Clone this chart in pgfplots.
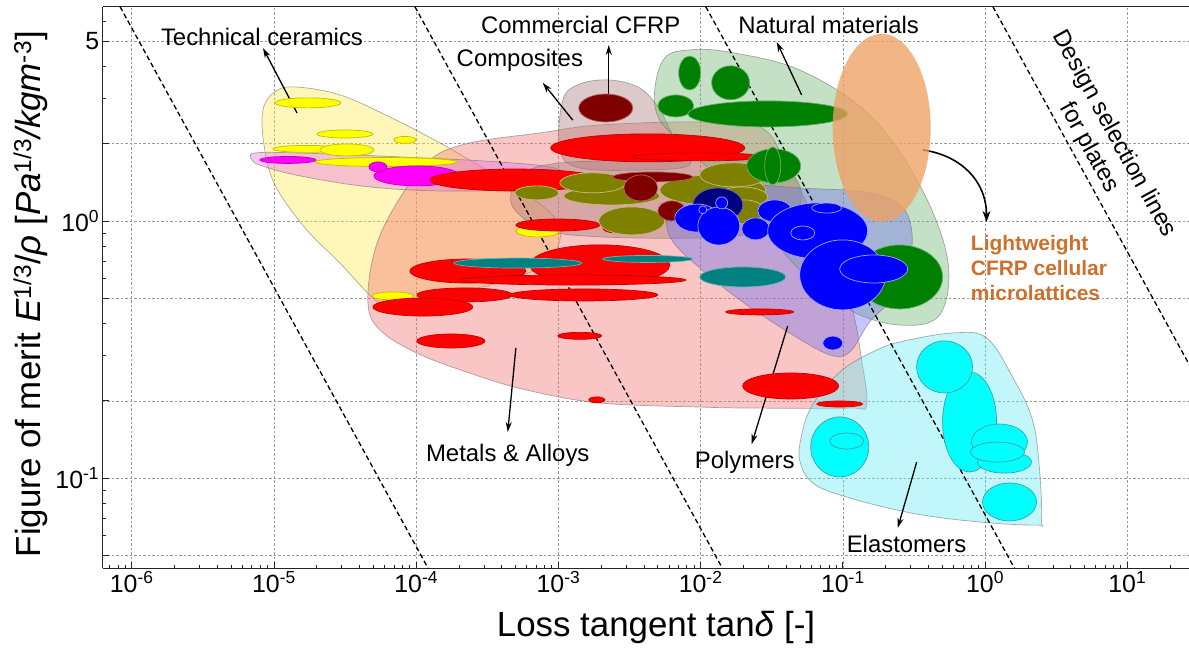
\documentclass[border=0pt]{standalone}
\usepackage{fontspec}
\setmainfont{Liberation Sans}
\usepackage{pgfplots}
\pgfplotsset{compat=1.18}
\usetikzlibrary{arrows.meta}

\definecolor{ceramic}{RGB}{255,235,80}
\definecolor{metal}{RGB}{240,110,110}
\definecolor{band}{RGB}{235,110,235}
\definecolor{compo}{RGB}{170,120,120}
\definecolor{natur}{RGB}{110,180,110}
\definecolor{polym}{RGB}{110,110,240}
\definecolor{elast}{RGB}{100,235,245}
\definecolor{lwcfrp}{RGB}{238,160,100}
\definecolor{lwtext}{RGB}{204,112,44}
\definecolor{yellowc}{RGB}{255,255,0}
\definecolor{magentac}{RGB}{255,0,255}
\definecolor{redc}{RGB}{255,0,0}
\definecolor{bluec}{RGB}{0,0,255}
\definecolor{cyanc}{RGB}{0,255,255}
\definecolor{olivec}{RGB}{128,128,0}
\definecolor{maroonc}{RGB}{128,0,0}
\definecolor{greenc}{RGB}{0,128,0}
\definecolor{navyc}{RGB}{0,0,128}
\definecolor{tealc}{RGB}{0,128,128}

\pgfdeclareplotmark{ell}{%
  \pgfpathellipse{\pgfpointorigin}{\pgfqpoint{\rx bp}{0pt}}{\pgfqpoint{0pt}{\ry bp}}%
  \pgfusepathqfillstroke}

\pgfplotsset{
  ell/.style 2 args={scatter, only marks, mark=ell,
    visualization depends on={value \thisrow{rx}\as\rx},
    visualization depends on={value \thisrow{ry}\as\ry},
    scatter/use mapped color={draw=#2, fill=#1},
    mark options={line width=0.7bp}},
  env/.style={fill=#1, fill opacity=0.4, draw=black!55, draw opacity=0.6,
    line width=0.7bp, smooth cycle, tension=0.6},
  selline/.style={black, line width=1.3bp, dash pattern=on 5bp off 3bp},
}
\tikzset{
  ann/.style={font=\fontsize{24}{28}\selectfont},
  arr/.style={-{Stealth[length=10bp,width=6bp]}, line width=1.3bp},
}

\begin{document}
\begin{tikzpicture}
\begin{axis}[
  at={(0,0)}, anchor=south west,
  scale only axis, width=1086.3bp, height=561.6bp,
  xmin=-6.204, xmax=1.434, ymin=-1.350, ymax=0.834,
  axis lines*=left,
  axis line style={line width=1.4bp, black!85},
  xtick={-6,-5,-4,-3,-2,-1,0,1},
  xticklabels={10\textsuperscript{-6},10\textsuperscript{-5},10\textsuperscript{-4},10\textsuperscript{-3},10\textsuperscript{-2},10\textsuperscript{-1},10\textsuperscript{0},10\textsuperscript{1}},
  ytick={-1.30103,-1,-0.69897,-0.30103,0,0.30103,0.69897},
  yticklabels={,10\textsuperscript{-1},,,10\textsuperscript{0},,5},
  minor xtick={-6.155,-6.097,-6.046,
    -5.699,-5.523,-5.398,-5.301,-5.222,-5.155,-5.097,-5.046,
    -4.699,-4.523,-4.398,-4.301,-4.222,-4.155,-4.097,-4.046,
    -3.699,-3.523,-3.398,-3.301,-3.222,-3.155,-3.097,-3.046,
    -2.699,-2.523,-2.398,-2.301,-2.222,-2.155,-2.097,-2.046,
    -1.699,-1.523,-1.398,-1.301,-1.222,-1.155,-1.097,-1.046,
    -0.699,-0.523,-0.398,-0.301,-0.222,-0.155,-0.097,-0.046,
    0.301,0.477,0.602,0.699,0.778,0.845,0.903,0.954,1.301},
  minor ytick={-1.222,-1.155,-1.097,-1.046,-0.523,-0.398,-0.222,-0.155,-0.097,-0.046,0.477,0.602,0.778},
  grid=major,
  major grid style={gray!80, line width=0.6bp, dash pattern=on 2.5bp off 2bp},
  major tick length=6bp, minor tick length=3.5bp,
  tick style={black!85, line width=0.8bp},
  tick label style={font=\fontsize{25}{30}\selectfont},
  xlabel={Loss tangent tan\textit{δ} [-]},
  ylabel={Figure of merit \textit{E}\textsuperscript{1/3}/\textit{ρ} [\textit{Pa}\textsuperscript{1/3}\textit{/kgm}\textsuperscript{-3}]},
  every axis x label/.style={at={(axis description cs:0.5093,-0.1223)}, anchor=base, font=\fontsize{35}{40}\selectfont},
  every axis y label/.style={at={(axis description cs:-0.0577,0.488)}, anchor=base, rotate=90, font=\fontsize{35}{40}\selectfont},
]
\draw[line width=1.4bp, black!85] (rel axis cs:0,1) -- (rel axis cs:1,1);

% ---------- envelopes ----------
% Technical ceramics
\addplot[env=ceramic] coordinates {(-5.077,0.433) (-4.993,0.503) (-4.852,0.522) (-4.536,0.491) (-4.185,0.405) (-3.833,0.304) (-3.482,0.191) (-3.166,0.082) (-3.004,-0.003) (-2.990,-0.073) (-3.075,-0.159) (-3.342,-0.229) (-3.763,-0.279) (-4.185,-0.314) (-4.290,-0.306) (-4.536,-0.163) (-4.782,-0.026) (-4.993,0.141) (-5.070,0.296)};
% Metals and alloys
\addplot[env=metal] coordinates {(-4.339,-0.318) (-4.290,-0.112) (-4.136,0.071) (-3.904,0.238) (-3.623,0.304) (-3.131,0.343) (-2.709,0.374) (-2.006,0.386) (-1.585,0.366) (-1.409,0.238) (-1.163,-0.034) (-0.952,-0.306) (-0.868,-0.540) (-0.833,-0.715) (-0.952,-0.727) (-1.585,-0.727) (-2.006,-0.723) (-2.709,-0.707) (-3.222,-0.657) (-3.623,-0.591) (-3.995,-0.513) (-4.255,-0.423)};
% ceramic band
\addplot[env=band] coordinates {(-5.134,0.265) (-4.817,0.265) (-4.115,0.250) (-3.412,0.230) (-3.025,0.207) (-2.990,0.168) (-3.096,0.129) (-3.763,0.117) (-4.325,0.133) (-4.817,0.176) (-5.084,0.215) (-5.155,0.238)};
% Commercial CFRP
\addplot[env=compo] coordinates {(-2.990,0.277) (-2.969,0.471) (-2.850,0.533) (-2.639,0.549) (-2.428,0.518) (-2.287,0.433) (-2.182,0.316) (-2.077,0.219) (-2.428,0.199) (-2.850,0.207)};
% Composites
\addplot[env=compo] coordinates {(-3.328,0.121) (-3.236,0.191) (-2.990,0.226) (-2.428,0.238) (-1.866,0.238) (-1.479,0.219) (-1.304,0.141) (-1.339,0.024) (-1.585,-0.042) (-2.006,-0.065) (-2.709,-0.061) (-3.096,-0.034) (-3.306,0.044)};
% Natural materials
\addplot[env=natur] coordinates {(-2.323,0.510) (-2.252,0.635) (-2.077,0.666) (-1.796,0.657) (-1.304,0.588) (-0.812,0.413) (-0.460,0.141) (-0.263,-0.151) (-0.320,-0.365) (-0.601,-0.404) (-0.952,-0.345) (-1.304,-0.190) (-1.725,0.082) (-2.077,0.277) (-2.287,0.393)};
% Polymers
\addplot[env=polym] coordinates {(-2.230,0.024) (-2.077,0.110) (-1.725,0.141) (-1.304,0.129) (-0.812,0.110) (-0.566,0.044) (-0.516,-0.112) (-0.636,-0.287) (-0.812,-0.392) (-0.952,-0.509) (-1.093,-0.520) (-1.374,-0.435) (-1.725,-0.306) (-2.006,-0.182) (-2.203,-0.073)};
% Elastomers
\addplot[env=elast] coordinates {(-1.304,-0.929) (-1.290,-0.832) (-1.233,-0.734) (-1.128,-0.649) (-0.987,-0.571) (-0.791,-0.509) (-0.601,-0.470) (-0.228,-0.435) (0.010,-0.454) (0.193,-0.606) (0.333,-0.773) (0.383,-0.968) (0.397,-1.163) (0.362,-1.182) (-0.039,-1.170) (-0.509,-1.136) (-0.973,-1.073) (-1.212,-1.018)};

% ---------- material bubbles ----------
\addplot[ell={yellowc}{yellowc!75!black}] table[row sep=\\]{
x y rx ry\\
-4.761 0.460 33 5\\
-4.501 0.339 28 4\\
-4.079 0.316 11 3.5\\
-4.768 0.281 34 3.5\\
-4.487 0.277 27 6\\
-4.213 0.230 71 4.5\\
-4.164 -0.291 21 4\\
-3.144 -0.038 22 6\\
};
\addplot[ell={magentac}{magentac!75!black}] table[row sep=\\]{
x y rx ry\\
-4.902 0.238 28 3.5\\
-3.995 0.176 43 10\\
-4.269 0.211 9 5\\
-3.089 0.184 4 3\\
};
\addplot[ell={redc}{redc!75!black}] table[row sep=\\]{
x y rx ry\\
-2.372 0.285 97 14\\
-2.006 0.250 67 4\\
-3.299 0.160 86 11\\
-3.004 -0.015 42 6\\
-2.604 -0.026 12 5\\
-2.709 -0.170 70 20\\
-3.637 -0.194 58 12\\
-2.899 -0.229 113 5\\
-3.658 -0.287 48 7\\
-2.821 -0.287 74 6\\
-3.953 -0.334 50 9\\
-3.756 -0.466 34 7\\
-2.850 -0.446 22 3.5\\
-2.730 -0.695 8 3\\
-1.367 -0.641 48 13\\
-1.022 -0.711 23 3\\
-1.585 -0.353 34 3\\
};
\addplot[ell={tealc}{tealc!60!white}] table[row sep=\\]{
x y rx ry\\
-3.285 -0.163 64 5\\
-2.372 -0.147 45 3.5\\
-1.704 -0.217 43 10\\
};
\addplot[ell={olivec}{olivec!50!white}] table[row sep=\\]{
x y rx ry\\
-3.152 0.110 22 7\\
-2.625 0.098 48 9\\
-2.758 0.149 33 10\\
-2.484 0.001 33 14\\
-1.915 0.121 53 15\\
-1.767 0.180 34 12\\
-1.711 0.094 26 10\\
-1.690 0.036 20 12\\
};
\addplot[ell={maroonc}{maroonc!60!white}] table[row sep=\\]{
x y rx ry\\
-2.667 0.440 27 14\\
-2.337 0.172 40 5\\
-2.421 0.129 17 13\\
-2.203 0.040 14 10\\
};
\addplot[ell={greenc}{greenc!60!white}] table[row sep=\\]{
x y rx ry\\
-2.077 0.576 11 17\\
-1.789 0.538 19 17\\
-2.175 0.448 18 11\\
-1.528 0.417 80 13\\
-1.486 0.215 27 17\\
-1.493 0.215 8 19\\
-0.601 -0.217 43 32\\
};
\addplot[ell={navyc}{navyc!60!white}] table[row sep=\\]{
x y rx ry\\
-1.879 0.063 25 17\\
};
\addplot[ell={bluec}{bluec!35!white}] table[row sep=\\]{
x y rx ry\\
-2.027 0.012 22 14\\
-1.872 -0.019 21 19\\
-1.613 -0.030 14 11\\
-1.479 0.040 17 11\\
-1.177 -0.038 50 28\\
-1.001 -0.209 43 35\\
-0.783 -0.186 34 14\\
-1.071 -0.474 10 7\\
-1.852 0.071 6 6\\
-1.985 0.044 4 4\\
-1.282 -0.046 12 7\\
-1.114 0.051 15 5\\
};
\addplot[ell={cyanc}{tealc!75!white}] table[row sep=\\]{
x y rx ry\\
-0.109 -0.781 27 50\\
-0.285 -0.567 28 26\\
0.172 -1.092 27 19\\
0.136 -0.937 27 11\\
0.101 -0.859 28 18\\
0.087 -0.898 27 10\\
-1.022 -0.878 29 30\\
-0.973 -0.855 17 8\\
};
% Lightweight CFRP cellular microlattices
\addplot[scatter, only marks, mark=ell,
  visualization depends on={value \thisrow{rx}\as\rx},
  visualization depends on={value \thisrow{ry}\as\ry},
  scatter/use mapped color={draw=lwcfrp, draw opacity=0, fill=lwcfrp, fill opacity=0.78}] table[row sep=\\]{
x y rx ry\\
-0.727 0.363 49 94\\
};

% ---------- design selection lines ----------
\addplot[selline] coordinates {(-6.082,0.834) (-3.916,-1.350)};
\addplot[selline] coordinates {(-4.009,0.834) (-1.847,-1.350)};
\addplot[selline] coordinates {(-1.964,0.834) (0.207,-1.350)};
\addplot[selline] coordinates {(0.055,0.834) (2.221,-1.350)};

% ---------- annotations ----------
\node[ann] at (axis cs:-5.084,0.716) {Technical ceramics};
\draw[arr] (axis cs:-4.838,0.421) -- (axis cs:-5.077,0.673);
\node[ann] at (axis cs:-2.843,0.763) {Commercial CFRP};
\draw[arr] (axis cs:-2.646,0.464) -- (axis cs:-2.646,0.685);
\node[ann] at (axis cs:-3.271,0.626) {Composites};
\draw[arr] (axis cs:-2.899,0.393) -- (axis cs:-3.110,0.538);
\node[ann] at (axis cs:-1.100,0.763) {Natural materials};
\draw[arr] (axis cs:-1.290,0.491) -- (axis cs:-1.465,0.697);
\node[ann] at (axis cs:-3.356,-0.909) {Metals \& Alloys};
\draw[arr] (axis cs:-3.299,-0.493) -- (axis cs:-3.356,-0.820);
\node[ann] at (axis cs:-1.690,-0.937) {Polymers};
\draw[arr] (axis cs:-1.388,-0.408) -- (axis cs:-1.641,-0.867);
\node[ann] at (axis cs:-0.552,-1.256) {Elastomers};
\draw[arr] (axis cs:-0.481,-0.937) -- (axis cs:-0.614,-1.193);
\node[anchor=west, align=left, text=lwtext, font=\bfseries\fontsize{21}{25}\selectfont] at (axis cs:-0.124,-0.182) {Lightweight\\CFRP cellular\\microlattices};
\draw[-{Stealth[length=11bp,width=8bp]}, line width=1.6bp] (axis cs:-0.439,0.277) .. controls (axis cs:-0.179,0.257) and (axis cs:0.010,0.160) .. (axis cs:0.010,-0.003);
\node[rotate=-61.1, align=center, font=\fontsize{24}{28.5}\selectfont] at (axis cs:0.818,0.312) {Design selection lines\\for plates};
\end{axis}
\pgfresetboundingbox
\path (-102.7bp,-79.7bp) rectangle (1086.3bp,568.3bp);
\end{tikzpicture}
\end{document}
